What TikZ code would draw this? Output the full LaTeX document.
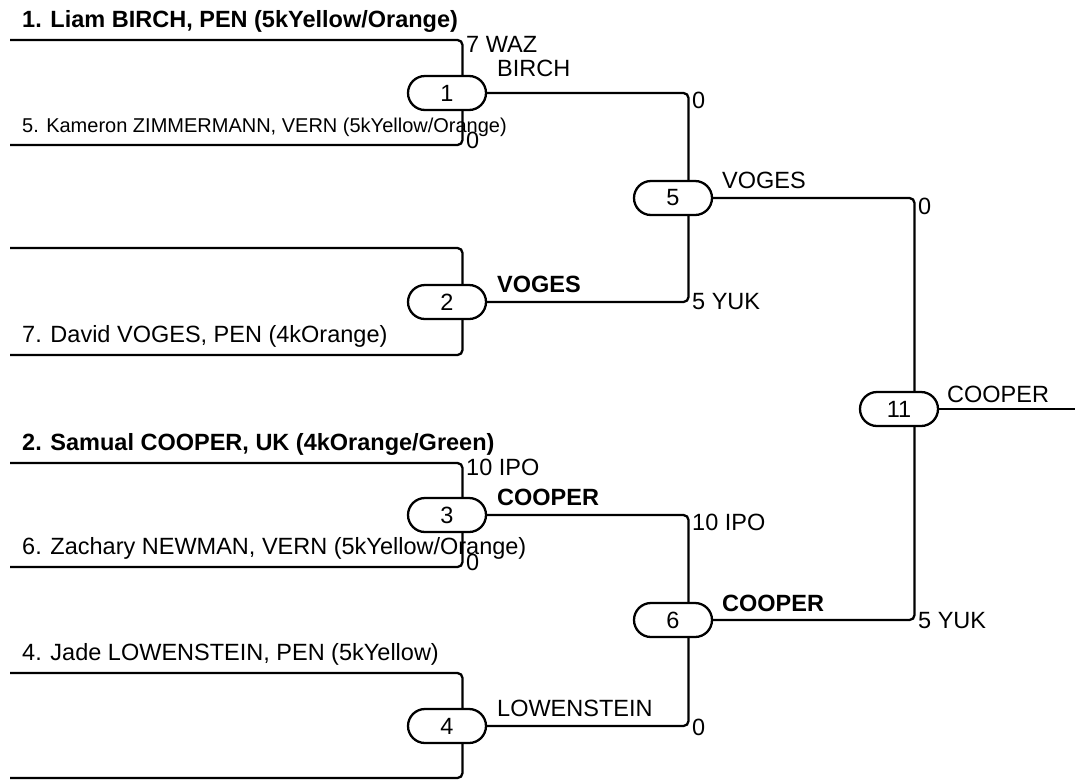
\documentclass[tikz,border=0pt]{standalone}
\usepackage{fontspec}
\setmainfont{Liberation Sans}
\usetikzlibrary{shapes.misc}

\begin{document}
\begin{tikzpicture}[x=1pt,y=-1pt,font=\fontsize{23.5}{28}\selectfont,
  match/.style={shape=rounded rectangle,draw,line width=2.3pt,
    minimum width=78pt,minimum height=34pt,inner sep=0pt},
  wire/.style={line width=2.3pt,rounded corners=5pt},
  entrant/.style={anchor=base west,inner sep=0pt},
  score/.style={anchor=west,inner sep=0pt},
  winner/.style={anchor=west,inner sep=0pt}]
  \useasboundingbox (0,0) rectangle (1075,780);

  % first round entry lines
  \coordinate (p1) at (10,40);
  \coordinate (p2) at (10,145);
  \coordinate (p3) at (10,248);
  \coordinate (p4) at (10,355);
  \coordinate (p5) at (10,463);
  \coordinate (p6) at (10,567);
  \coordinate (p7) at (10,673);
  \coordinate (p8) at (10,778);
  \coordinate (out) at (1075,409);

  \node[match] (m1) at (447,93) {1};
  \node[match] (m2) at (447,302) {2};
  \node[match] (m3) at (447,515) {3};
  \node[match] (m4) at (447,726) {4};
  \node[match] (m5) at (673,198) {5};
  \node[match] (m6) at (673,620) {6};
  \node[match] (m11) at (899,409) {11};

  \node[entrant] (n1) at (22,27) {\bfseries 1. Liam BIRCH, PEN (5kYellow/Orange)};
  \node[entrant,font=\fontsize{20}{24}\selectfont] (n2) at (22,132) {5. Kameron ZIMMERMANN, VERN (5kYellow/Orange)};
  \node[entrant] (n4) at (22,342) {7. David VOGES, PEN (4kOrange)};
  \node[entrant] (n5) at (22,450) {\bfseries 2. Samual COOPER, UK (4kOrange/Green)};
  \node[entrant] (n6) at (22,554) {6. Zachary NEWMAN, VERN (5kYellow/Orange)};
  \node[entrant] (n7) at (22,660) {4. Jade LOWENSTEIN, PEN (5kYellow)};

  \draw[wire] (p1) -| ([xshift=15.5pt]m1.north);
  \draw[wire] (p2) -| ([xshift=15.5pt]m1.south);
  \draw[wire] (p3) -| ([xshift=15.5pt]m2.north);
  \draw[wire] (p4) -| ([xshift=15.5pt]m2.south);
  \draw[wire] (p5) -| ([xshift=15.5pt]m3.north);
  \draw[wire] (p6) -| ([xshift=15.5pt]m3.south);
  \draw[wire] (p7) -| ([xshift=15.5pt]m4.north);
  \draw[wire] (p8) -| ([xshift=15.5pt]m4.south);
  \draw[wire] (m1.east) -| ([xshift=15.5pt]m5.north);
  \draw[wire] (m2.east) -| ([xshift=15.5pt]m5.south);
  \draw[wire] (m3.east) -| ([xshift=15.5pt]m6.north);
  \draw[wire] (m4.east) -| ([xshift=15.5pt]m6.south);
  \draw[wire] (m5.east) -| ([xshift=15.5pt]m11.north);
  \draw[wire] (m6.east) -| ([xshift=15.5pt]m11.south);
  \draw[wire] (m11.east) -- (out);

  % scores
  \node[score] (s1) at (466,44) {7 WAZ};
  \node[score] (s2) at (466,140) {0};
  \node[score] (s3) at (466,467) {10 IPO};
  \node[score] (s4) at (466,562) {0};
  \node[score] (s5) at (692,100) {0};
  \node[score] (s6) at (692,302) {5 YUK};
  \node[score] (s7) at (692,522) {10 IPO};
  \node[score] (s8) at (692,727) {0};
  \node[score] (s9) at (918,206) {0};
  \node[score] (s10) at (918,621) {5 YUK};

  % winners
  \node[winner] (w1) at (497,68) {BIRCH};
  \node[winner] (w2) at (497,284) {\bfseries VOGES};
  \node[winner] (w3) at (497,497) {\bfseries COOPER};
  \node[winner] (w4) at (497,708) {LOWENSTEIN};
  \node[winner] (w5) at (722,180) {VOGES};
  \node[winner] (w6) at (722,603) {\bfseries COOPER};
  \node[winner] (w11) at (947,394) {COOPER};
\end{tikzpicture}
\end{document}
